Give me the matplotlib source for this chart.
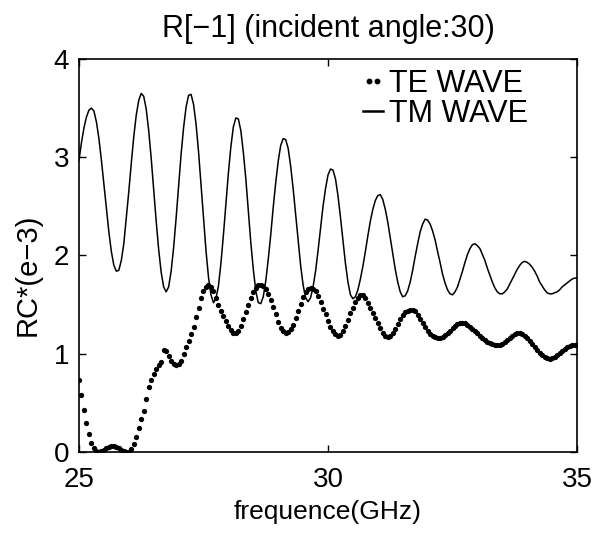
import matplotlib.pyplot as plt
import numpy as np
from matplotlib.lines import Line2D
from matplotlib.legend_handler import HandlerLine2D

# frequency grid (GHz), 0.05 GHz step
freq = np.linspace(25, 35, 201)

# TM wave (solid line), RC*(e-3)
tm_wave = [
    2.97, 3.15, 3.30, 3.41, 3.48, 3.50, 3.47, 3.36, 3.19, 2.97, 2.73, 2.48, 2.24, 2.04, 1.90, 1.84, 1.85, 1.95, 2.12, 2.38,
    2.65, 2.94, 3.21, 3.43, 3.58, 3.65, 3.62, 3.49, 3.27, 2.99, 2.67, 2.35, 2.06, 1.83, 1.68, 1.63, 1.68, 1.84, 2.08, 2.38,
    2.71, 3.03, 3.30, 3.51, 3.63, 3.64, 3.54, 3.34, 3.06, 2.72, 2.38, 2.05, 1.78, 1.60, 1.52, 1.56, 1.69, 1.92, 2.21, 2.53,
    2.84, 3.11, 3.31, 3.40, 3.39, 3.27, 3.05, 2.78, 2.46, 2.13, 1.86, 1.64, 1.52, 1.51, 1.58, 1.74, 1.96, 2.21, 2.49, 2.74,
    2.96, 3.12, 3.19, 3.18, 3.09, 2.91, 2.68, 2.42, 2.15, 1.90, 1.70, 1.57, 1.53, 1.57, 1.68, 1.84, 2.05, 2.28, 2.50, 2.68,
    2.82, 2.88, 2.87, 2.78, 2.61, 2.39, 2.15, 1.92, 1.73, 1.60, 1.56, 1.58, 1.65, 1.76, 1.89, 2.04, 2.20, 2.35, 2.47, 2.56,
    2.61, 2.62, 2.57, 2.47, 2.34, 2.18, 2.02, 1.86, 1.73, 1.63, 1.58, 1.59, 1.64, 1.73, 1.85, 1.99, 2.12, 2.24, 2.32, 2.37,
    2.36, 2.32, 2.25, 2.16, 2.04, 1.93, 1.81, 1.72, 1.65, 1.61, 1.60, 1.63, 1.68, 1.76, 1.84, 1.93, 2.01, 2.07, 2.11, 2.12,
    2.10, 2.07, 2.01, 1.95, 1.87, 1.80, 1.73, 1.67, 1.63, 1.61, 1.61, 1.63, 1.66, 1.71, 1.76, 1.81, 1.86, 1.90, 1.93, 1.94,
    1.93, 1.91, 1.88, 1.84, 1.79, 1.73, 1.69, 1.65, 1.62, 1.61, 1.61, 1.62, 1.63, 1.65, 1.68, 1.70, 1.72, 1.74, 1.76, 1.77,
    1.77,
]

# TE wave (dotted), RC*(e-3)
te_wave = [
    0.73, 0.58, 0.43, 0.29, 0.18, 0.09, 0.04, 0.01, 0.00, 0.01, 0.02, 0.04, 0.05, 0.06, 0.06, 0.05, 0.04, 0.02, 0.01, 0.00,
    0.00, 0.03, 0.08, 0.15, 0.24, 0.34, 0.42, 0.54, 0.66, 0.73, 0.79, 0.84, 0.89, 0.92, 1.04, 1.03, 0.98, 0.93, 0.90, 0.89,
    0.90, 0.93, 1.00, 1.07, 1.13, 1.20, 1.27, 1.37, 1.47, 1.57, 1.64, 1.68, 1.70, 1.68, 1.64, 1.57, 1.50, 1.44, 1.38, 1.33,
    1.28, 1.24, 1.21, 1.21, 1.23, 1.28, 1.35, 1.42, 1.50, 1.57, 1.63, 1.67, 1.70, 1.70, 1.69, 1.66, 1.61, 1.55, 1.48, 1.40,
    1.32, 1.26, 1.23, 1.21, 1.22, 1.25, 1.29, 1.36, 1.44, 1.51, 1.58, 1.63, 1.66, 1.67, 1.66, 1.64, 1.59, 1.53, 1.46, 1.40,
    1.33, 1.27, 1.23, 1.20, 1.18, 1.19, 1.23, 1.28, 1.34, 1.41, 1.47, 1.53, 1.57, 1.60, 1.60, 1.57, 1.52, 1.47, 1.41, 1.36,
    1.31, 1.26, 1.21, 1.18, 1.17, 1.18, 1.21, 1.25, 1.30, 1.35, 1.39, 1.42, 1.44, 1.45, 1.45, 1.43, 1.39, 1.35, 1.31, 1.27,
    1.23, 1.20, 1.18, 1.17, 1.16, 1.16, 1.17, 1.19, 1.21, 1.23, 1.26, 1.28, 1.30, 1.31, 1.31, 1.31, 1.29, 1.27, 1.25, 1.23,
    1.21, 1.18, 1.16, 1.14, 1.12, 1.11, 1.10, 1.09, 1.09, 1.09, 1.10, 1.12, 1.14, 1.16, 1.18, 1.20, 1.21, 1.21, 1.20, 1.18,
    1.16, 1.13, 1.10, 1.07, 1.04, 1.01, 0.99, 0.97, 0.96, 0.95, 0.96, 0.97, 0.99, 1.01, 1.03, 1.05, 1.07, 1.08, 1.09, 1.09,
    1.09,
]

x_ticks = [25, 30, 35]
y_ticks = [0, 1, 2, 3, 4]

plt.rcParams['font.family'] = ['Liberation Sans', 'DejaVu Sans']

fig = plt.figure(figsize=(6.09, 5.38), dpi=100)
ax = fig.add_axes([0.1297, 0.1599, 0.8178, 0.7304])

tm_line, = ax.plot(freq, tm_wave, color='black', linewidth=1.1)
te_line, = ax.plot(freq, te_wave, linestyle='none', marker='o', markersize=3.8,
                   markerfacecolor='black', markeredgecolor='black', markeredgewidth=0)

ax.set_xlim(25, 35)
ax.set_ylim(0, 4)
ax.set_xticks(x_ticks)
ax.set_yticks(y_ticks)
ax.tick_params(direction='in', length=5, width=1, top=True, right=True, labelsize=20)
ax.tick_params(axis='x', pad=11)
ax.tick_params(axis='y', pad=7)
for s in ax.spines.values():
    s.set_linewidth(1.2)

ax.set_title('R[\u22121] (incident angle:30)', fontsize=22, pad=16)
ax.set_xlabel('frequence(GHz)', fontsize=19, labelpad=5)
ax.set_ylabel('RC*(e\u22123)', fontsize=21)
ax.yaxis.set_label_coords(-0.076, 0.45)

# legend drawn in MATLAB style: ".." for TE, "-" for TM
te_handle = Line2D([], [], linestyle='none', marker='o', markersize=3.2, color='black')
tm_handle = Line2D([], [], color='black', linewidth=1.8)
ax.legend([te_handle, tm_handle], ['TE WAVE', 'TM WAVE'], loc='upper left',
          bbox_to_anchor=(0.57, 0.975), frameon=False, fontsize=22,
          handlelength=0.65, handletextpad=0.2, numpoints=2,
          labelspacing=0.0, borderpad=0, borderaxespad=0,
          handler_map={te_handle: HandlerLine2D(marker_pad=0.2),
                       tm_handle: HandlerLine2D(marker_pad=0)})

fig.savefig('out.png', dpi=100)
